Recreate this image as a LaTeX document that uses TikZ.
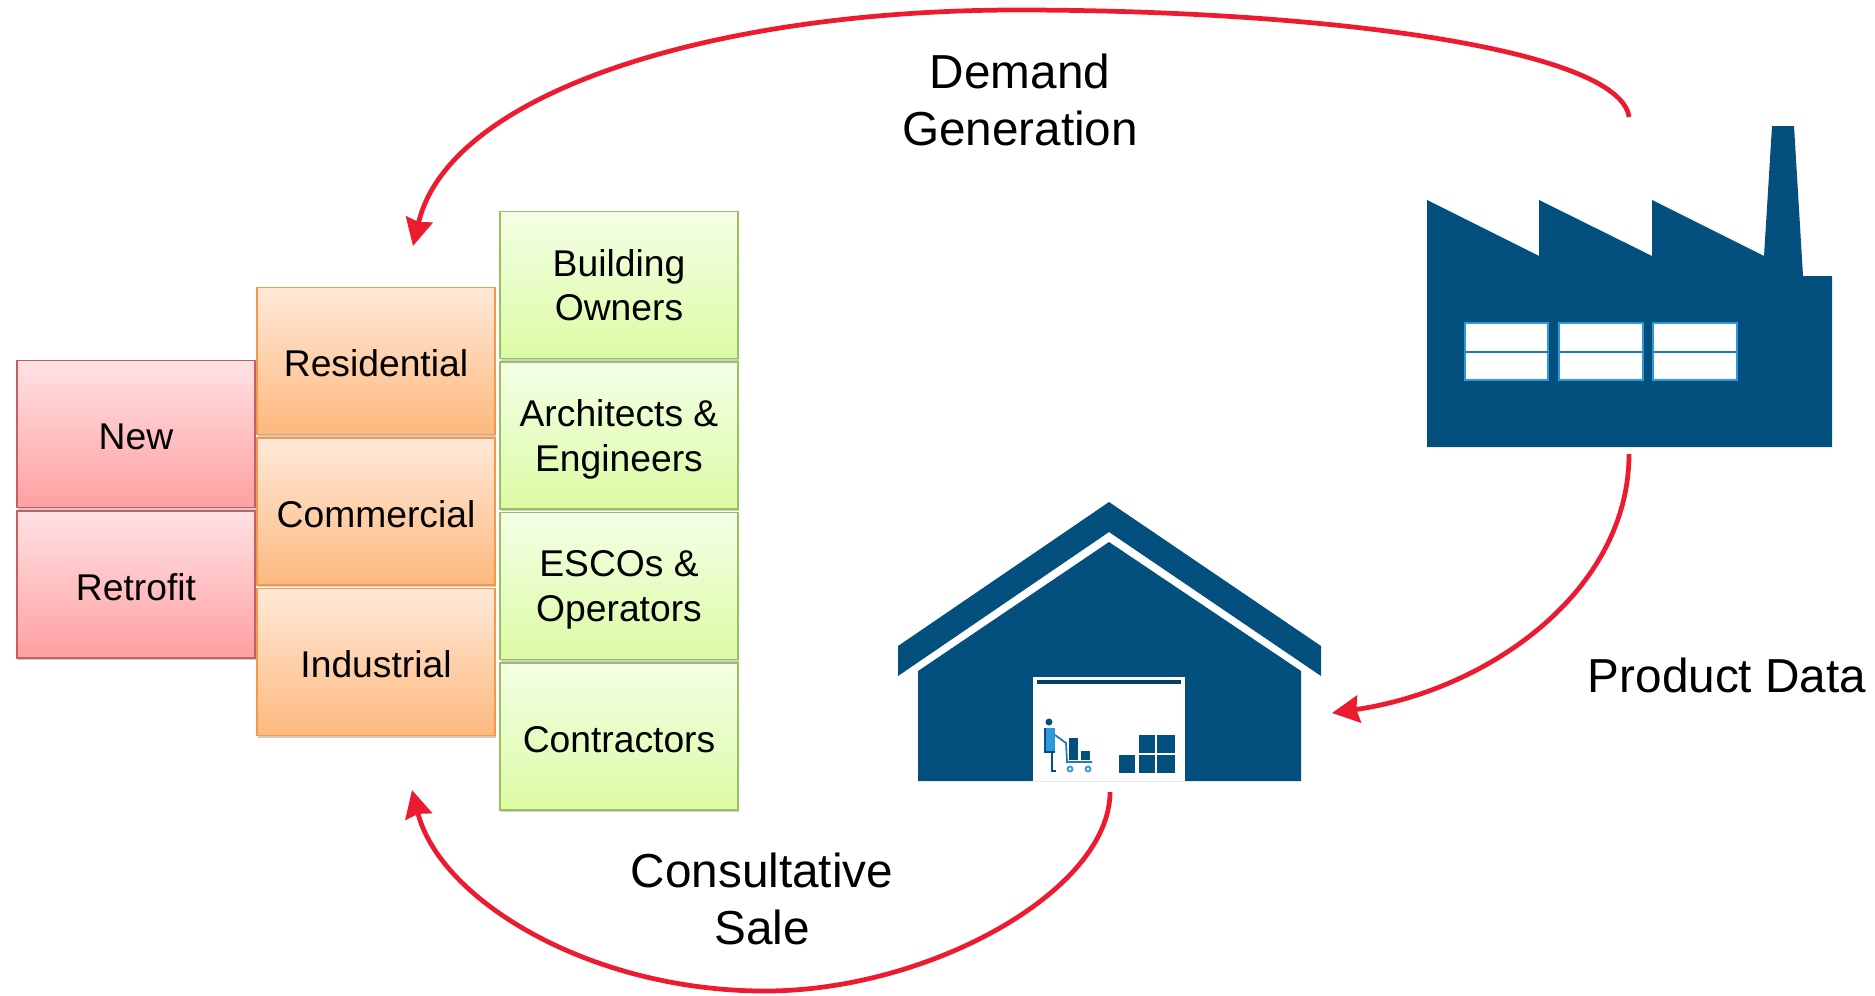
\documentclass[tikz,border=0pt]{standalone}
\usepackage{fontspec}
\setmainfont{Liberation Sans}
\usepackage{xcolor}
\usetikzlibrary{positioning, shadows, arrows.meta}
\definecolor{navy}{HTML}{03507F}
\definecolor{sky}{HTML}{2A9BD8}
\definecolor{arrowred}{HTML}{EC1B30}
\definecolor{redline}{HTML}{C4605F}
\definecolor{redtop}{HTML}{FFE2E4}
\definecolor{redbottom}{HTML}{FF9FA1}
\definecolor{orangeline}{HTML}{F4984E}
\definecolor{orangetop}{HTML}{FFE8D8}
\definecolor{orangebottom}{HTML}{FDB97E}
\definecolor{greenline}{HTML}{9DBE5F}
\definecolor{greentop}{HTML}{F4FFE6}
\definecolor{greenbottom}{HTML}{DBFBA4}
\tikzset{
	segbox/.style={rectangle, minimum width=4.76cm, minimum height=2.94cm, inner sep=0pt, align=center,
		text depth=0pt, line width=1pt, font=\fontsize{21.2}{25.4}\selectfont,
		drop shadow={shadow xshift=0.8pt, shadow yshift=-1.4pt, opacity=0.4}},
	oneline/.style={text height=18pt},
	redbox/.style={segbox, oneline, draw=redline, top color=redtop, bottom color=redbottom},
	orangebox/.style={segbox, oneline, draw=orangeline, top color=orangetop, bottom color=orangebottom},
	greenbox/.style={segbox, draw=greenline, top color=greentop, bottom color=greenbottom},
	biglabel/.style={align=center, font=\fontsize{27.15}{32.2}\selectfont},
	flow/.style={-{Stealth[length=15.5pt, width=15.5pt, inset=1.5pt]}, draw=arrowred, line width=2.7pt},
	pane/.style={draw=sky, line width=0.9pt, fill=white}
}
\begin{document}
\begin{tikzpicture}[x=0.02cm, y=-0.02cm, node distance=1pt]
		\useasboundingbox (0, 0) rectangle (1875, 995);

		\node[redbox] (new) at (136, 434) {New};
		\node[redbox, below=of new] (retrofit) {Retrofit};

		\node[orangebox] (residential) at (376, 361) {Residential};
		\node[orangebox, below=of residential] (commercial) {Commercial};
		\node[orangebox, below=of commercial] (industrial) {Industrial};

		\node[greenbox] (owners) at (619, 285) {Building\\Owners};
		\node[greenbox, below=of owners] (architects) {Architects \&\\Engineers};
		\node[greenbox, below=of architects] (escos) {ESCOs \&\\Operators};
		\node[greenbox, oneline, below=of escos] (contractors) {Contractors};

		\fill[navy] (1427, 447) -- (1427, 200) -- (1539, 256) -- (1539, 200) -- (1652, 256) -- (1652, 200)
			-- (1764, 256) -- (1772, 126) -- (1794, 126) -- (1803, 276) -- (1832, 276) -- (1832, 447) -- cycle;
		\draw[pane] (1465, 323) rectangle (1548, 380);
		\draw[pane] (1559, 323) rectangle (1643, 380);
		\draw[pane] (1653, 323) rectangle (1737, 380);
		\draw[sky!60!navy, line width=1pt] (1465, 352) -- (1548, 352);
		\draw[sky!60!navy, line width=1pt] (1559, 352) -- (1643, 352);
		\draw[sky!60!navy, line width=1pt] (1653, 352) -- (1737, 352);

		\fill[navy] (1109, 502) -- (1321, 646) -- (1321, 676) -- (1109, 532) -- (898, 676) -- (898, 646) -- cycle;
		\fill[navy] (1109, 542) -- (1301, 671) -- (1301, 781) -- (918, 781) -- (918, 671) -- cycle;
		\fill[white] (1033, 677) rectangle (1185, 781);
		\fill[navy!80!black] (1037, 680) rectangle (1181, 684);

		\fill[navy] (1049, 722) circle (3.5);
		\fill[sky] (1045, 728) rectangle (1055, 752);
		\draw[navy, line width=1.1pt] (1045, 728) -- (1045, 752) -- (1055, 752);
		\draw[navy, line width=1.1pt] (1052, 752) -- (1052, 771) -- (1056, 771);
		\draw[sky!60!navy, line width=1pt] (1055, 735) -- (1066, 743) -- (1067, 762) -- (1092, 762);
		\fill[navy] (1069, 738) rectangle (1078, 760);
		\fill[navy] (1081, 751) rectangle (1090, 760);
		\draw[sky, line width=1pt] (1070, 769) circle (2.5);
		\draw[sky, line width=1pt] (1088, 769) circle (2.5);

		\fill[navy] (1119, 755) rectangle (1135, 773);
		\fill[navy] (1139, 755) rectangle (1155, 773);
		\fill[navy] (1157, 755) rectangle (1175, 773);
		\fill[navy] (1139, 735) rectangle (1155, 753);
		\fill[navy] (1157, 735) rectangle (1175, 753);

		\coordinate (factorytop) at (1629, 117);
		\coordinate (factorybottom) at (1629, 454);
		\coordinate (warehouseside) at (1332, 713);
		\coordinate (warehousebottom) at (1110, 792);
		\coordinate (marketbottom) at (412, 790);
		\coordinate (markettop) at (413, 246);

		\draw[flow] (factorytop) .. controls (1620, 50) and (1330, 10) .. (1017, 10)
			.. controls (720, 10) and (450, 90) .. (markettop);
		\draw[flow] (factorybottom) .. controls (1629, 590) and (1490, 690) .. (warehouseside);
		\draw[flow] (warehousebottom) .. controls (1110, 890) and (930, 991) .. (765, 991)
			.. controls (590, 991) and (440, 900) .. (marketbottom);

		\node[biglabel] (demand) at (1020, 100) {Demand\\Generation};
		\node[biglabel] (product) at (1727, 675) {Product Data};
		\node[biglabel] (sale) at (762, 899) {Consultative\\Sale};
	\end{tikzpicture}
\end{document}
